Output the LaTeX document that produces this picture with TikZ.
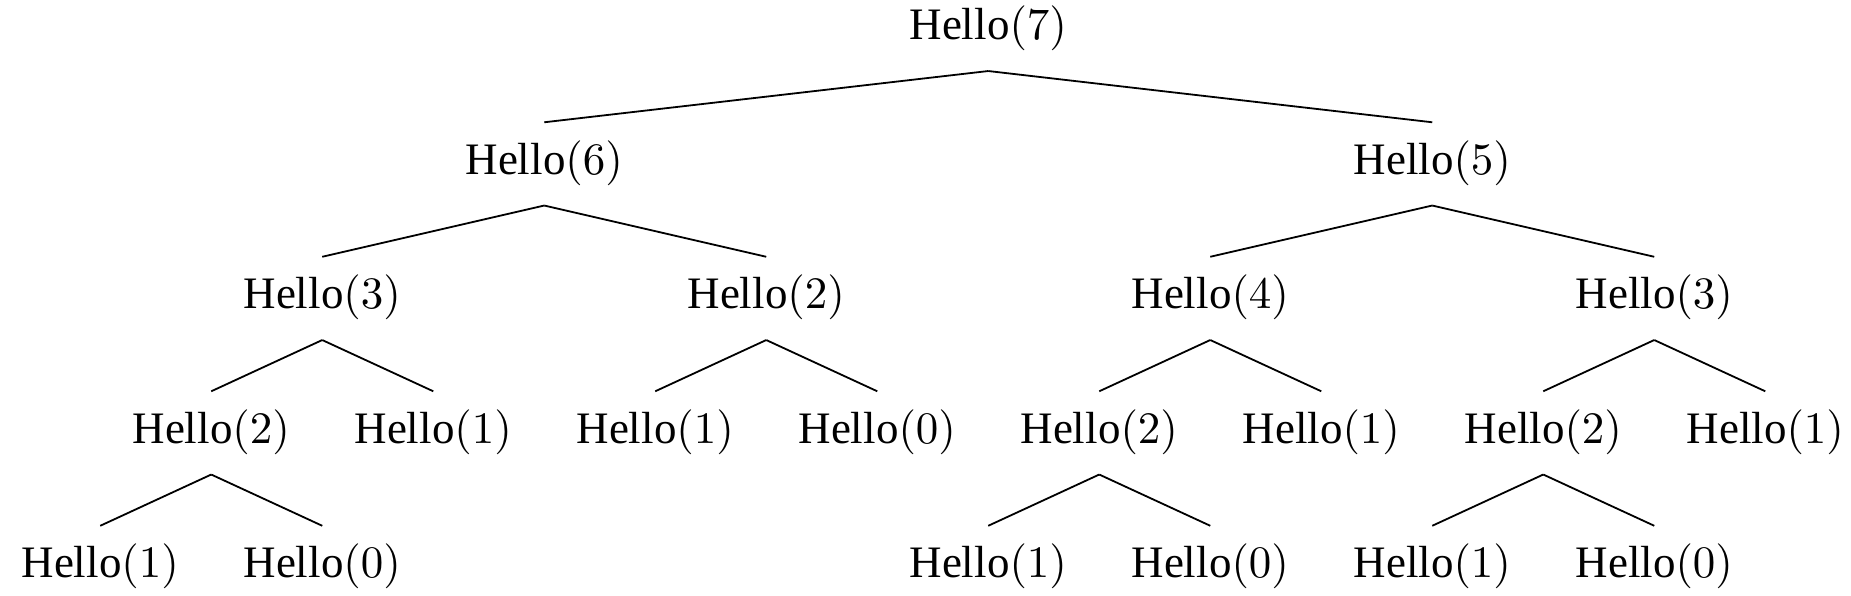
\documentclass[tikz,border=0pt]{standalone}
\usepackage{fontspec}
\newfontfamily\hf{Liberation Serif}
\begin{document}
\begin{tikzpicture}[x=0.22222pt,y=-0.22222pt,
  hn/.style={anchor=base,inner sep=0pt,font=\hf,xshift=0.5pt},
  ed/.style={line width=0.4pt}]
\useasboundingbox (0,0) rectangle (1851,596);
\newcommand{\hh}[1]{Hello$(#1)$\hspace{0.6pt}}
% level 0
\node[hn] (r) at (986,40) {\hh{7}};
% level 1
\node[hn] (a) at (542,174.5) {\hh{6}};
\node[hn] (b) at (1430,174.5) {\hh{5}};
% level 2
\node[hn] (aa) at (320,309) {\hh{3}};
\node[hn] (ab) at (764,309) {\hh{2}};
\node[hn] (ba) at (1208,309) {\hh{4}};
\node[hn] (bb) at (1652,309) {\hh{3}};
% level 3
\node[hn] (aaa) at (209,443.5) {\hh{2}};
\node[hn] (aab) at (431,443.5) {\hh{1}};
\node[hn] (aba) at (653,443.5) {\hh{1}};
\node[hn] (abb) at (875,443.5) {\hh{0}};
\node[hn] (baa) at (1097,443.5) {\hh{2}};
\node[hn] (bab) at (1319,443.5) {\hh{1}};
\node[hn] (bba) at (1541,443.5) {\hh{2}};
\node[hn] (bbb) at (1763,443.5) {\hh{1}};
% level 4
\node[hn] (aaaa) at (98,578) {\hh{1}};
\node[hn] (aaab) at (320,578) {\hh{0}};
\node[hn] (baaa) at (986,578) {\hh{1}};
\node[hn] (baab) at (1208,578) {\hh{0}};
\node[hn] (bbaa) at (1430,578) {\hh{1}};
\node[hn] (bbab) at (1652,578) {\hh{0}};
% edges
\foreach \p/\c in {r/a,r/b,a/aa,a/ab,b/ba,b/bb,aa/aaa,aa/aab,ab/aba,ab/abb,ba/baa,ba/bab,bb/bba,bb/bbb,aaa/aaaa,aaa/aaab,baa/baaa,baa/baab,bba/bbaa,bba/bbab}
  \draw[ed] ([yshift=-6.9pt]\p.base) -- ([yshift=11.6pt]\c.base);
\end{tikzpicture}
\end{document}
